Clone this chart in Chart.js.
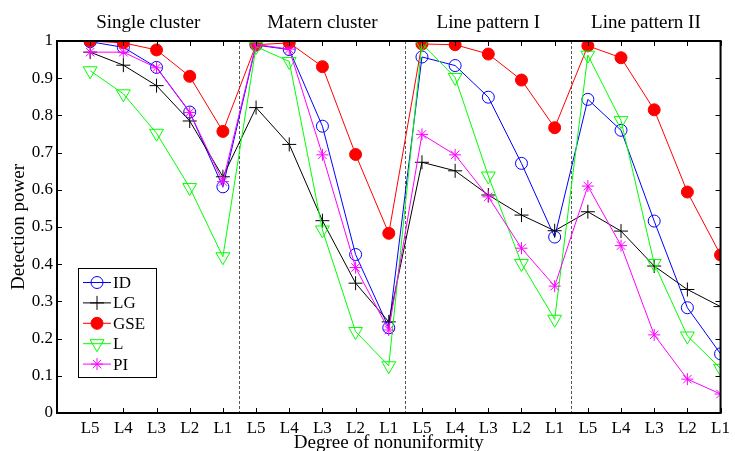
<!DOCTYPE html>
<html>
<head>
<meta charset="utf-8">
<script src="https://cdn.jsdelivr.net/npm/chart.js"></script>
<style>
  html, body { margin: 0; padding: 0; background: #fff; }
  #wrap { width: 735px; height: 451px; }
</style>
</head>
<body>
<div id="wrap"><canvas id="power-chart"></canvas></div>
<script>
const xLabels = ["L5", "L4", "L3", "L2", "L1", "L5", "L4", "L3", "L2", "L1",
                 "L5", "L4", "L3", "L2", "L1", "L5", "L4", "L3", "L2", "L1"];
const groupNames = ["Single cluster", "Matern cluster", "Line pattern I", "Line pattern II"];
const yTicks = [0, 0.1, 0.2, 0.3, 0.4, 0.5, 0.6, 0.7, 0.8, 0.9, 1];

const idVals  = [0.998, 0.983, 0.929, 0.809, 0.608, 0.989, 0.977, 0.771, 0.426, 0.229,
                 0.957, 0.934, 0.849, 0.671, 0.473, 0.843, 0.760, 0.516, 0.283, 0.159];
const lgVals  = [0.970, 0.935, 0.880, 0.785, 0.635, 0.821, 0.722, 0.517, 0.349, 0.245,
                 0.674, 0.651, 0.586, 0.532, 0.490, 0.541, 0.489, 0.395, 0.332, 0.286];
const gseVals = [1.000, 0.995, 0.976, 0.905, 0.757, 0.990, 0.995, 0.931, 0.695, 0.483,
                 0.992, 0.990, 0.965, 0.895, 0.767, 0.987, 0.955, 0.815, 0.594, 0.425];
const lVals   = [0.920, 0.858, 0.752, 0.606, 0.420, 0.985, 0.945, 0.492, 0.219, 0.127,
                 0.993, 0.902, 0.637, 0.402, 0.252, 0.962, 0.786, 0.402, 0.207, 0.120];
const piVals  = [0.970, 0.970, 0.928, 0.808, 0.622, 0.991, 0.978, 0.694, 0.391, 0.223,
                 0.749, 0.694, 0.581, 0.443, 0.341, 0.610, 0.450, 0.210, 0.091, 0.051];

const SERIF = "'Liberation Serif', 'Times New Roman', serif";
Chart.defaults.font.family = SERIF;
Chart.defaults.color = "#000";

const toPts = vals => vals.map((v, i) => ({ x: i + 1, y: v }));

function series(label, vals, color, style, opts) {
  return Object.assign({
    label: label,
    data: toPts(vals),
    borderColor: color,
    borderWidth: 1,
    backgroundColor: "rgba(0,0,0,0)",
    pointStyle: style,
    pointBorderColor: color,
    pointBorderWidth: 1,
    pointRadius: 6,
    tension: 0
  }, opts || {});
}

const datasets = [
  series("ID", idVals, "#0000ff", "circle", { order: 5 }),
  series("LG", lgVals, "#000000", "cross", { order: 4, pointRadius: 7 }),
  series("GSE", gseVals, "#ff0000", "circle", { order: 3, pointBackgroundColor: "#ff0000" }),
  series("L", lVals, "#00ff00", "triangle", { order: 2, pointRadius: 8, pointRotation: 180 }),
  series("PI", piVals, "#ff00ff", "star", { order: 1, pointRadius: 6 })
];

// frame, inward ticks, separators, group titles and legend (MATLAB look)
const decor = {
  id: "decor",
  beforeDatasetsDraw(chart) {
    const { ctx, chartArea: a, scales } = chart;
    ctx.save();
    ctx.strokeStyle = "#555";
    ctx.lineWidth = 1;
    ctx.setLineDash([3, 2]);
    [5.5, 10.5, 15.5].forEach(v => {
      const px = Math.round(scales.x.getPixelForValue(v)) + 0.5;
      ctx.beginPath();
      ctx.moveTo(px, a.top);
      ctx.lineTo(px, a.bottom);
      ctx.stroke();
    });
    ctx.restore();
  },
  afterDraw(chart) {
    const { ctx, chartArea: a, scales } = chart;
    ctx.save();
    ctx.strokeStyle = "#000";
    ctx.lineWidth = 1;
    ctx.beginPath();
    for (let i = 1; i <= 20; i++) {
      const px = Math.round(scales.x.getPixelForValue(i)) + 0.5;
      ctx.moveTo(px, a.bottom); ctx.lineTo(px, a.bottom - 5);
      ctx.moveTo(px, a.top); ctx.lineTo(px, a.top + 5);
    }
    yTicks.forEach(v => {
      const py = Math.round(scales.y.getPixelForValue(v)) + 0.5;
      ctx.moveTo(a.left, py); ctx.lineTo(a.left + 5, py);
      ctx.moveTo(a.right, py); ctx.lineTo(a.right - 5, py);
    });
    ctx.stroke();

    ctx.lineWidth = 2;
    ctx.strokeRect(a.left, a.top, a.right - a.left, a.bottom - a.top);

    // group titles
    ctx.fillStyle = "#000";
    ctx.font = "19px " + SERIF;
    ctx.textAlign = "center";
    ctx.textBaseline = "alphabetic";
    groupNames.forEach((name, g) => {
      const l = g === 0 ? a.left : scales.x.getPixelForValue(g * 5 + 0.5);
      const r = g === 3 ? a.right : scales.x.getPixelForValue(g * 5 + 5.5);
      ctx.fillText(name, (l + r) / 2, 28);
    });

    // legend box
    const bx = 78.5, by = 268.5, bw = 78, bh = 109, rowH = 20.4;
    ctx.fillStyle = "#fff";
    ctx.fillRect(bx, by, bw, bh);
    ctx.lineWidth = 1;
    ctx.strokeStyle = "#000";
    ctx.strokeRect(bx, by, bw, bh);
    ctx.font = "17px " + SERIF;
    ctx.textAlign = "left";
    ctx.textBaseline = "middle";
    chart.data.datasets.forEach((ds, i) => {
      const cy = by + 14 + i * rowH;
      ctx.strokeStyle = ds.borderColor;
      ctx.lineWidth = 1;
      ctx.beginPath();
      ctx.moveTo(83, cy); ctx.lineTo(111, cy);
      ctx.stroke();
      ctx.fillStyle = ds.pointBackgroundColor || "rgba(0,0,0,0)";
      Chart.helpers.drawPoint(ctx, {
        pointStyle: ds.pointStyle,
        rotation: ds.pointRotation || 0,
        radius: ds.pointRadius,
        borderWidth: 1
      }, 97, cy);
      ctx.fillStyle = "#000";
      ctx.fillText(ds.label, 113, cy + 1);
    });
    ctx.restore();
  }
};

new Chart(document.getElementById("power-chart"), {
  type: "line",
  data: { datasets: datasets },
  options: {
    responsive: true,
    maintainAspectRatio: false,
    animation: false,
    layout: { padding: { top: 41, right: 9, left: 0, bottom: 0 } },
    plugins: { legend: { display: false }, tooltip: { enabled: false } },
    scales: {
      x: {
        type: "linear",
        min: 0,
        max: 20,
        afterFit: s => { s.height = 38; },
        grid: { display: false, drawTicks: false },
        border: { display: false },
        ticks: {
          stepSize: 1,
          autoSkip: false,
          maxRotation: 0,
          padding: 5,
          font: { size: 17 },
          callback: v => (v >= 1 && v <= 20 ? xLabels[v - 1] : "")
        },
        title: {
          display: true,
          text: "Degree of nonuniformity",
          font: { size: 19 },
          padding: { top: 0, bottom: -3 }
        }
      },
      y: {
        min: 0,
        max: 1,
        afterFit: s => { s.width = 57; },
        grid: { display: false, drawTicks: false },
        border: { display: false },
        ticks: {
          stepSize: 0.1,
          padding: 4,
          font: { size: 17 },
          callback: v => (v === 0 ? "0" : Math.abs(v - 1) < 1e-9 ? "1" : v.toFixed(1))
        },
        title: {
          display: true,
          text: "Detection power",
          font: { size: 19 },
          padding: { top: 8, bottom: 0 }
        }
      }
    }
  },
  plugins: [decor]
});
</script>
</body>
</html>
